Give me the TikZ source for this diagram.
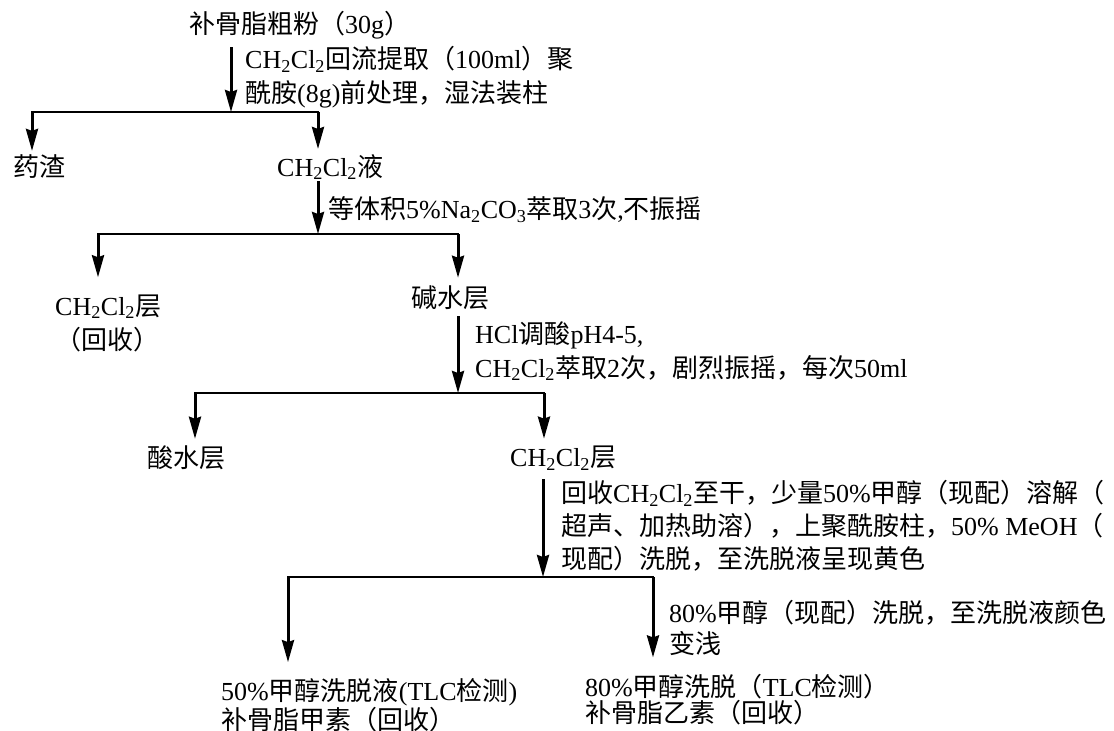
\documentclass[tikz,border=0pt]{standalone}
\usepackage{fontspec}
\setmainfont{Liberation Serif}
\newfontfamily\cjk{Noto Sans CJK SC}
\usetikzlibrary{arrows.meta}
\newcommand\zh[1]{{\cjk #1}}
\newcommand\sbs[1]{\textsubscript{#1}}
\begin{document}
\begin{tikzpicture}[x=1pt,y=-1pt,
  txt/.style={anchor=west,inner sep=0pt,align=left,font=\fontsize{26}{34}\selectfont},
  arr/.style={line width=3pt,-{Stealth[length=22pt,width=12pt,inset=2pt]}},
  bar/.style={line width=2.4pt,line cap=rect}]
\useasboundingbox (0,0) rectangle (1114,731);
\fill[white] (0,0) rectangle (1114,731);

\node[txt] (t0) at (189,25) {\zh{补骨脂粗粉（}30g\zh{）}};
\node[txt] (l1) at (245,77) {CH\sbs2Cl\sbs2\zh{回流提取（}100ml\zh{）聚}\\\zh{酰胺}(8g)\zh{前处理，湿法装柱}};
\node[txt] (yao) at (13,167) {\zh{药渣}};
\node[txt] (ch1) at (277,167) {CH\sbs2Cl\sbs2\zh{液}};
\node[txt] (l2) at (328,210) {\zh{等体积}5\%Na\sbs2CO\sbs3\zh{萃取}3\zh{次},\zh{不振摇}};
\node[txt] (ch2) at (55,323) {CH\sbs2Cl\sbs2\zh{层}\\\zh{（回收）}};
\node[txt] (jian) at (411,298) {\zh{碱水层}};
\node[txt] (l3) at (475,351) {HCl\zh{调酸}pH4-5,\\CH\sbs2Cl\sbs2\zh{萃取}2\zh{次，剧烈振摇，每次}50ml};
\node[txt] (suan) at (147,458) {\zh{酸水层}};
\node[txt] (ch3) at (510,458) {CH\sbs2Cl\sbs2\zh{层}};
\node[txt,font=\fontsize{26}{33}\selectfont] (l4) at (561,526) {\zh{回收}CH\sbs2Cl\sbs2\zh{至干，少量}50\%\zh{甲醇（现配）溶解（}\\\zh{超声、加热助溶），上聚酰胺柱，}50\% MeOH\zh{（}\\\zh{现配）洗脱，至洗脱液呈现黄色}};
\node[txt,font=\fontsize{26}{31}\selectfont] (l5) at (669,628) {80\%\zh{甲醇（现配）洗脱，至洗脱液颜色}\\\zh{变浅}};
\node[txt,font=\fontsize{26}{26}\selectfont] (r1) at (221,705) {50\%\zh{甲醇洗脱液}(TLC\zh{检测})\\\zh{补骨脂甲素（回收）}};
\node[txt,font=\fontsize{26}{26}\selectfont] (r2) at (585,700) {80\%\zh{甲醇洗脱（}TLC\zh{检测）}\\\zh{补骨脂乙素（回收）}};

\coordinate (j1) at (231,112);
\coordinate (b1l) at (32,112);
\coordinate (b1r) at (318,112);
\coordinate (j2) at (318,234);
\coordinate (b2l) at (98,234);
\coordinate (b2r) at (458,234);
\coordinate (j3) at (458,393);
\coordinate (b3l) at (195,393);
\coordinate (b3r) at (544,393);
\coordinate (j4) at (543,577);
\coordinate (b4l) at (288,577);
\coordinate (b4r) at (653,577);

% level 1
\draw[arr,shorten <=8pt] (t0.south -| j1) -- (j1);
\draw[bar] (b1l) -- (b1r);
\draw[arr] (b1l) -- ([yshift=4pt]yao.north -| b1l);
\draw[arr] (b1r) -- ([yshift=5pt]ch1.north -| b1r);
% level 2
\draw[arr,shorten <=1pt] (ch1.south -| j2) -- (j2);
\draw[bar] (b2l) -- (b2r);
\draw[arr] (b2l) -- ([yshift=17pt]ch2.north -| b2l);
\draw[arr] (b2r) -- ([yshift=8pt]jian.north -| b2r);
% level 3
\draw[arr,shorten <=6pt] (jian.south -| j3) -- (j3);
\draw[bar] (b3l) -- (b3r);
\draw[arr] (b3l) -- ([yshift=7pt]suan.north -| b3l);
\draw[arr] (b3r) -- ([yshift=7pt]ch3.north -| b3r);
% level 4
\draw[arr,shorten <=9pt] (ch3.south -| j4) -- (j4);
\draw[bar] (b4l) -- (b4r);
\draw[arr] (b4l) -- ([yshift=16pt]r1.north -| b4l);
\draw[arr] (b4r) -- ([yshift=17pt]r2.north -| b4r);
\end{tikzpicture}
\end{document}
